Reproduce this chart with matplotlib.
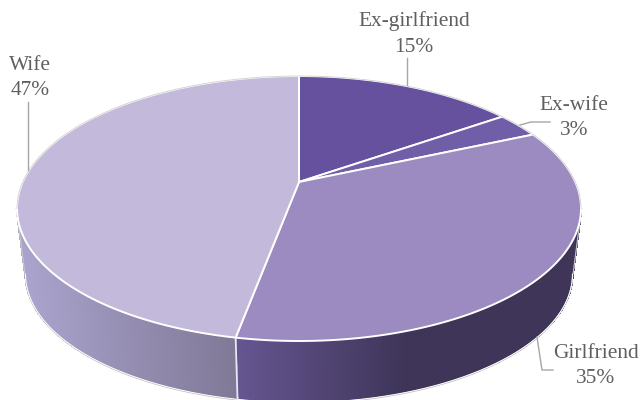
#!/usr/bin/env python3
"""
Perspective 3D pie: share by relationship, drawn on a pixel-sized axes.
"""

import numpy as np
import matplotlib
matplotlib.use("Agg")
import matplotlib.pyplot as plt
from matplotlib.patches import Polygon

categories = ["Ex-girlfriend", "Ex-wife", "Girlfriend", "Wife"]
shares = [15.3, 3.1, 34.55, 47.05]

TOP_COLORS = ["#66519f", "#705ea8", "#9c8bc0", "#c3b9db"]
# wall gradient per slice: colour at the left end, colour at the right end, x range
WALLS = {
    "Girlfriend": ("#655590", "#3e3559", 238, 405),
    "Wife": ("#aaa3cd", "#7f7896", 20, 237),
}
LABEL_POS = [(414, 34), (574, 118), (596, 366), (30, 78)]
LEADERS = [
    [(407, 58), (407, 85)],
    [(520, 125), (531, 122), (550, 122)],
    [(537, 337), (542, 370), (553, 370)],
    [(28, 102), (28, 170)],
]

CX, CY = 299.0, 182.0
RX, RY, PERSP = 276.3, 127.2, 0.2
WALL_DROP, WALL_SCALE = 66.0, 0.97
# rim angles where the projected circle is widest, the wall shows between them
WALL_START = np.pi - np.arccos(PERSP)
WALL_END = np.pi + np.arccos(PERSP)
FONT_SIZE = 15.4


def rim(theta, drop=0.0, scale=1.0):
    # theta clockwise from 12 o'clock, circle projected with perspective
    u, v = np.sin(theta), np.cos(theta)
    d = 1 + PERSP * v
    return CX + scale * RX * u / d, CY + drop - scale * RY * v / d


def mix(c0, c1, t):
    a = np.array(matplotlib.colors.to_rgb(c0))
    b = np.array(matplotlib.colors.to_rgb(c1))
    return tuple(a + (b - a) * np.clip(t, 0, 1))


def main():
    fig = plt.figure(figsize=(6.42, 4.0), dpi=100)
    ax = fig.add_axes([0, 0, 1, 1])
    ax.set_xlim(0, 642)
    ax.set_ylim(400, 0)
    ax.axis("off")

    edges = np.deg2rad(np.concatenate([[0], np.cumsum(shares)]) * 3.6)

    # side wall strips first, the top covers the back half
    for i, name in enumerate(categories):
        if name not in WALLS:
            continue
        c0, c1, x0, x1 = WALLS[name]
        th = np.linspace(max(edges[i], WALL_START), min(edges[i + 1], WALL_END), 400)
        for a, b in zip(th[:-1], th[1:]):
            xa, ya = rim(a)
            xb, yb = rim(b)
            xc, yc = rim(b, WALL_DROP, WALL_SCALE)
            xd, yd = rim(a, WALL_DROP, WALL_SCALE)
            col = mix(c0, c1, ((xa + xb) / 2 - x0) / (x1 - x0))
            ax.add_patch(Polygon([(xa, ya), (xb, yb), (xc, yc), (xd, yd)],
                                 closed=True, fc=col, ec=col, lw=0.8,
                                 antialiased=False, zorder=1))

    # wall outline and the seam between the two visible walls
    th = np.linspace(WALL_START, WALL_END, 400)
    bx, by = rim(th, WALL_DROP, WALL_SCALE)
    for sign, k in ((1, 0), (-1, -1)):
        tx, ty = rim(th[k])
        bx_out = [tx + sign * 0.6, bx[k] + sign * 0.6]
        ax.plot(bx_out, [ty, by[k]], color="#c4c4c4", lw=0.9, zorder=2)
    ax.plot(bx, by + 0.9, color="#bdbdbd", lw=1.0, zorder=2)
    ax.plot(bx, by + 0.4, color="white", lw=0.7, zorder=2)
    sx0, sy0 = rim(edges[3])
    sx1, sy1 = rim(edges[3], WALL_DROP, WALL_SCALE)
    ax.plot([sx0, sx1], [sy0, sy1], color="#e9e7f0", lw=1.3, zorder=2)

    # top slices
    for i, color in enumerate(TOP_COLORS):
        th = np.linspace(edges[i], edges[i + 1], 200)
        x, y = rim(th)
        pts = np.column_stack([np.r_[CX, x], np.r_[CY, y]])
        ax.add_patch(Polygon(pts, closed=True, fc=color, ec="white", lw=1.4,
                             joinstyle="round", zorder=3))

    # thin grey edge round the back of the top
    th = np.linspace(WALL_END, WALL_START + 2 * np.pi, 500)
    x, y = rim(th)
    ax.plot(x, y, color="#cfcfcf", lw=0.6, zorder=4)

    for pts in LEADERS:
        px, py = zip(*pts)
        ax.plot(px, py, color="#a6a6a6", lw=1.0, zorder=5)

    for name, share, (tx, ty) in zip(categories, shares, LABEL_POS):
        ax.text(tx, ty, f"{name}\n{share:.0f}%", ha="center", va="center",
                family="Liberation Serif", fontsize=FONT_SIZE, color="#5f5f5f",
                linespacing=1.45, zorder=6)

    fig.savefig("out.png", dpi=100)
    plt.close(fig)


if __name__ == "__main__":
    main()
